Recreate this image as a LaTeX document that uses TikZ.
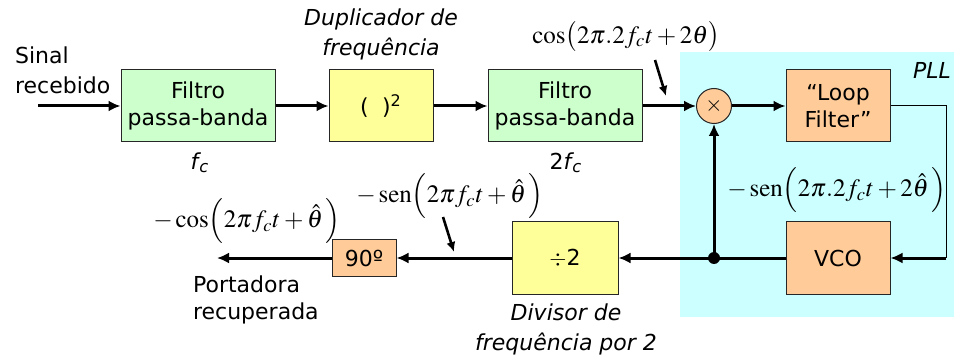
\documentclass[tikz,border=0pt]{standalone}
\usepackage{amsmath}
\usepackage{mathptmx}
\usepackage[no-math]{fontspec}
\setmainfont{DejaVu Sans}
\usetikzlibrary{positioning,arrows.meta}

\definecolor{bpgreen}{HTML}{CCFFCC}
\definecolor{sqyellow}{HTML}{FFFF99}
\definecolor{pllorange}{HTML}{FFCC99}
\definecolor{pllcyan}{HTML}{CCFFFF}

\tikzset{
  blk/.style={draw=black!85,line width=0.5pt,align=center,inner sep=0pt},
  eq/.style={inner sep=0pt,font=\fontsize{12.5}{14}\selectfont},
  sig/.style={line width=1.5pt,-{Latex[length=6pt,width=5.5pt]}},
  ptr/.style={line width=1.3pt,-{Latex[length=5pt,width=4.5pt]}}
}

\begin{document}
\begin{tikzpicture}[x=0.5pt,y=-0.5pt,font=\fontsize{11}{13.5}\selectfont]
  \useasboundingbox (0,0) rectangle (954,358);
  % PLL area
  \fill[pllcyan] (680,52) rectangle (954,317);
  \node[anchor=east,font=\fontsize{11}{13.5}\selectfont\itshape] (pll) at (958,70) {PLL};

  % upper chain
  \node[blk,fill=bpgreen,minimum width=77pt,minimum height=36pt] (bpf1) at (198,106) {Filtro\\passa-banda};
  \node[blk,fill=sqyellow,minimum width=52pt,minimum height=36pt] (sq) at (381,106) {(\hspace{0.6em})$^{\text{\fontsize{8}{9}\selectfont 2}}$};
  \node[blk,fill=bpgreen,minimum width=77pt,minimum height=36pt] (bpf2) at (565,106) {Filtro\\passa-banda};
  \node[blk,circle,fill=pllorange,minimum size=17.5pt] (mult) at (714,106) {$\times$};
  \node[blk,fill=pllorange,minimum width=52pt,minimum height=36pt] (lf) at (838,106) {``Loop\\Filter''};

  % lower chain
  \node[blk,fill=pllorange,minimum width=52pt,minimum height=36pt] (vco) at (838,258) {VCO};
  \node[blk,fill=sqyellow,minimum width=53pt,minimum height=36pt] (div) at (565,258) {$\div$2};
  \node[blk,fill=pllorange,minimum width=32pt,minimum height=18.5pt] (ph) at (364,258) {90º};

  % labels
  \node[align=left,anchor=west,font=\fontsize{11}{15}\selectfont] (rx) at (8,70) {Sinal\\recebido};
  \node (fc1) at (200,163) {\textit{f\kern0.5pt}\textsubscript{\textit{c}}};
  \node (fc2) at (566,163) {2\textit{f\kern0.5pt}\textsubscript{\textit{c}}};
  \node[align=center,font=\fontsize{11}{15}\selectfont\itshape] (dup) at (381,34) {Duplicador de\\frequência};
  \node[align=center,font=\fontsize{11}{15}\selectfont\itshape] (dvl) at (566,329) {Divisor de\\frequência por 2};
  \node[align=left,anchor=west] (rec) at (186,300) {Portadora\\recuperada};
  \node[eq] (eqa) at (626,37) {$\cos\bigl(2\pi.2f_ct+2\theta\bigr)$};
  \node[eq] (eqb) at (837,190) {$-\operatorname{sen}\Bigl(2\pi.2f_ct+2\hat\theta\,\Bigr)$};
  \node[eq] (eqc) at (450,196) {$-\operatorname{sen}\Bigl(2\pi f_ct+\hat\theta\,\Bigr)$};
  \node[eq] (eqd) at (247,221) {$-\cos\Bigl(2\pi f_ct+\hat\theta\,\Bigr)$};

  % free ends
  \coordinate (in) at (38,106);
  \coordinate (out) at (217,258);
  \coordinate (lfout) at (946,106);
  \coordinate (vcoin) at (946,258);
  \coordinate (junc) at (mult |- vco);
  \coordinate (pa1) at (655,60);
  \coordinate (pa2) at (666,96);
  \coordinate (pc1) at (443,217);
  \coordinate (pc2) at (454,252);

  % connections
  \draw[sig] (in) -- (bpf1);
  \draw[sig] (bpf1) -- (sq);
  \draw[sig] (sq) -- (bpf2);
  \draw[sig] (bpf2) -- (mult);
  \draw[sig] (mult) -- (lf);
  \draw[line width=0.5pt] (lf.east) -- (lfout) -- (vcoin);
  \draw[sig] (vcoin) -- (vco);
  \draw[line width=1.5pt] (vco) -- (junc);
  \draw[sig] (junc) -- (mult);
  \draw[sig] (junc) -- (div);
  \draw[sig] (div) -- (ph);
  \draw[sig] (ph) -- (out);
  \fill (junc) circle (3pt);
  \draw[ptr] (pa1) -- (pa2);
  \draw[ptr] (pc1) -- (pc2);
\end{tikzpicture}
\end{document}
